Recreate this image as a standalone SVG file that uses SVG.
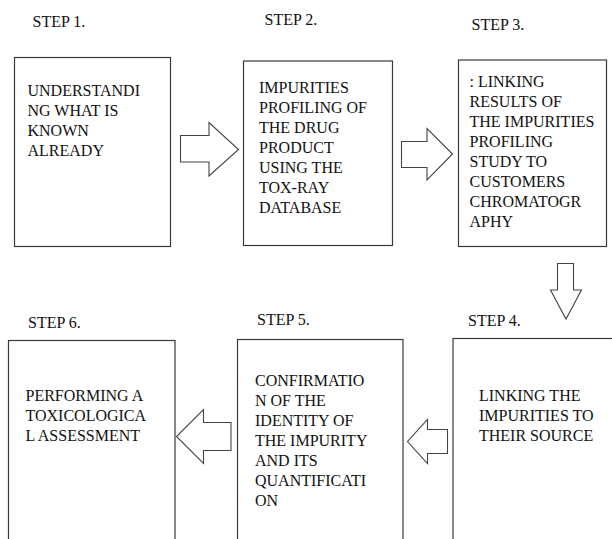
<svg xmlns="http://www.w3.org/2000/svg" width="612" height="539" viewBox="0 0 612 539">
<style>
text{font-family:'Liberation Serif','Times New Roman',serif;font-size:16px;fill:#111}
.box{fill:#fff;stroke:#3a3a3a;stroke-width:1.2}
.arrow{fill:#fff;stroke:#444;stroke-width:1.1;stroke-linejoin:miter}
</style>
<rect width="612" height="539" fill="#fff"/>
<g id="step1">
<text x="32.5" y="27">STEP 1.</text>
<rect class="box" x="14.5" y="57.5" width="156" height="189"/>
<text x="27.5" y="96">UNDERSTANDI</text>
<text x="27.5" y="116">NG WHAT IS</text>
<text x="27.5" y="136">KNOWN</text>
<text x="27.5" y="156">ALREADY</text>
</g>
<g id="step2">
<text x="264.5" y="24.5">STEP 2.</text>
<rect class="box" x="243.5" y="61" width="149" height="184.5"/>
<text x="259" y="93">IMPURITIES</text>
<text x="259" y="113">PROFILING OF</text>
<text x="259" y="133">THE DRUG</text>
<text x="259" y="153">PRODUCT</text>
<text x="259" y="173">USING THE</text>
<text x="259" y="193">TOX-RAY</text>
<text x="259" y="213">DATABASE</text>
</g>
<g id="step3">
<text x="471.5" y="29.5">STEP 3.</text>
<rect class="box" x="458.5" y="60" width="148" height="186.5"/>
<text x="469.5" y="87">: LINKING</text>
<text x="469.5" y="107">RESULTS OF</text>
<text x="469.5" y="127">THE IMPURITIES</text>
<text x="469.5" y="147">PROFILING</text>
<text x="469.5" y="167">STUDY TO</text>
<text x="469.5" y="187">CUSTOMERS</text>
<text x="469.5" y="207">CHROMATOGR</text>
<text x="469.5" y="227">APHY</text>
</g>
<g id="step4">
<text x="468" y="326">STEP 4.</text>
<rect class="box" x="453" y="338.5" width="170" height="210"/>
<text x="479" y="400.5">LINKING THE</text>
<text x="479" y="420.5">IMPURITIES TO</text>
<text x="479" y="440.5">THEIR SOURCE</text>
</g>
<g id="step5">
<text x="257" y="325">STEP 5.</text>
<rect class="box" x="237.5" y="339.5" width="165.5" height="210"/>
<text x="255" y="386">CONFIRMATIO</text>
<text x="255" y="406">N OF THE</text>
<text x="255" y="426">IDENTITY OF</text>
<text x="255" y="446">THE IMPURITY</text>
<text x="255" y="466">AND ITS</text>
<text x="255" y="486">QUANTIFICATI</text>
<text x="255" y="506">ON</text>
</g>
<g id="step6">
<text x="28" y="328">STEP 6.</text>
<rect class="box" x="8.5" y="340.5" width="166.5" height="210"/>
<text x="25.5" y="400.5">PERFORMING A</text>
<text x="25.5" y="420.5">TOXICOLOGICA</text>
<text x="25.5" y="440.5">L ASSESSMENT</text>
</g>
<g id="connectors">
<polygon class="arrow" points="180.5,135.5 209,135.5 209,122.5 238.5,149.5 209,176 209,162 180.5,162"/>
<polygon class="arrow" points="401.5,141.5 427,141.5 427,128.5 452.5,154 427,180 427,167.5 401.5,167.5"/>
<polygon class="arrow" points="557.5,263.5 573.5,263.5 573.5,290 581.5,290 566,319 550.5,290 557.5,290"/>
<polygon class="arrow" points="447.5,429.5 427.5,429.5 427.5,419.5 407.5,441.5 427.5,463.5 427.5,453.5 447.5,453.5"/>
<polygon class="arrow" points="231,422.5 203.5,422.5 203.5,409.5 176.5,436.5 203.5,463.5 203.5,450.5 231,450.5"/>
</g>
</svg>
